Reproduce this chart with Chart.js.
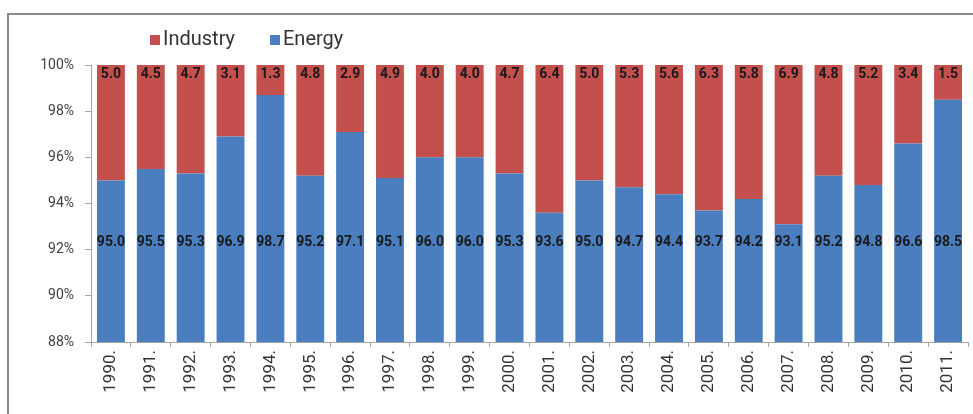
<!DOCTYPE html>
<html>
<head>
<meta charset="utf-8">
<script src="https://cdn.jsdelivr.net/npm/chart.js@4"></script>
<style>
  html, body { margin: 0; padding: 0; background: #fff; }
  #wrap { position: relative; width: 973px; height: 414px; }
</style>
</head>
<body>
<div id="wrap"><canvas id="c" width="973" height="414"></canvas></div>
<script>
const years = ["1990.","1991.","1992.","1993.","1994.","1995.","1996.","1997.","1998.","1999.","2000.","2001.","2002.","2003.","2004.","2005.","2006.","2007.","2008.","2009.","2010.","2011."];
const energy = [95.0,95.5,95.3,96.9,98.7,95.2,97.1,95.1,96.0,96.0,95.3,93.6,95.0,94.7,94.4,93.7,94.2,93.1,95.2,94.8,96.6,98.5];
const industry = [5.0,4.5,4.7,3.1,1.3,4.8,2.9,4.9,4.0,4.0,4.7,6.4,5.0,5.3,5.6,6.3,5.8,6.9,4.8,5.2,3.4,1.5];
const yTicks = [88, 90, 92, 94, 96, 98, 100];

const RED = '#C4504D';
const BLUE = '#4A7EBF';
const FONT = 'Roboto, "Open Sans", sans-serif';

const framePlugin = {
  id: 'frame',
  beforeDraw(chart) {
    const ctx = chart.ctx;
    ctx.save();
    ctx.strokeStyle = '#8a8a8a';
    ctx.lineWidth = 2;
    ctx.beginPath();
    ctx.moveTo(8, 414);
    ctx.lineTo(8, 14);
    ctx.lineTo(973, 14);
    ctx.stroke();
    ctx.restore();
  }
};

const legendPlugin = {
  id: 'customLegend',
  afterDraw(chart) {
    const ctx = chart.ctx;
    ctx.save();
    ctx.font = '20px ' + FONT;
    ctx.textBaseline = 'middle';
    ctx.fillStyle = RED;
    ctx.fillRect(150, 35, 10, 10);
    ctx.fillStyle = '#333';
    ctx.fillText(chart.data.datasets[1].label, 163, 40);
    ctx.fillStyle = BLUE;
    ctx.fillRect(270, 35, 10, 10);
    ctx.fillStyle = '#333';
    ctx.fillText(chart.data.datasets[0].label, 283, 40);
    ctx.restore();
  }
};

const labelPlugin = {
  id: 'barLabels',
  afterDatasetsDraw(chart) {
    const ctx = chart.ctx;
    const y = chart.scales.y;
    ctx.save();
    ctx.font = 'bold 14px ' + FONT;
    ctx.fillStyle = '#1a1a1a';
    ctx.textAlign = 'center';
    ctx.textBaseline = 'middle';
    const metaE = chart.getDatasetMeta(0);
    const metaI = chart.getDatasetMeta(1);
    metaE.data.forEach((bar, i) => {
      ctx.fillText(energy[i].toFixed(1), bar.x, y.getPixelForValue(92.33));
    });
    metaI.data.forEach((bar, i) => {
      ctx.fillText(industry[i].toFixed(1), bar.x, y.getPixelForValue(99.57));
    });
    ctx.restore();
  }
};

new Chart(document.getElementById('c'), {
  type: 'bar',
  data: {
    labels: years,
    datasets: [
      { label: 'Energy', data: energy, backgroundColor: BLUE, categoryPercentage: 1.0, barPercentage: 0.7 },
      { label: 'Industry', data: industry, backgroundColor: RED, categoryPercentage: 1.0, barPercentage: 0.7 }
    ]
  },
  options: {
    responsive: false,
    animation: false,
    layout: { padding: { left: 0, right: 5, top: 65, bottom: 0 } },
    plugins: { legend: { display: false }, tooltip: { enabled: false } },
    scales: {
      x: {
        stacked: true,
        grid: { display: true, drawOnChartArea: false, tickLength: 5, color: '#a6a6a6' },
        border: { display: true, color: '#a6a6a6', width: 1 },
        ticks: { minRotation: 90, maxRotation: 90, autoSkip: false, padding: 3, color: '#333', font: { family: FONT, size: 17 } },
        afterFit(s) { s.height = 72; }
      },
      y: {
        stacked: true,
        min: 88, max: 100,
        afterBuildTicks(s) { s.ticks = yTicks.map(v => ({ value: v })); },
        grid: { display: true, drawOnChartArea: false, tickLength: 6, color: '#a6a6a6' },
        border: { display: true, color: '#a6a6a6', width: 1 },
        ticks: { padding: 11, color: '#404040', font: { family: FONT, size: 14 }, callback: v => v + '%' },
        afterFit(s) { s.width = 91; }
      }
    }
  },
  plugins: [framePlugin, labelPlugin, legendPlugin]
});
</script>
</body>
</html>
